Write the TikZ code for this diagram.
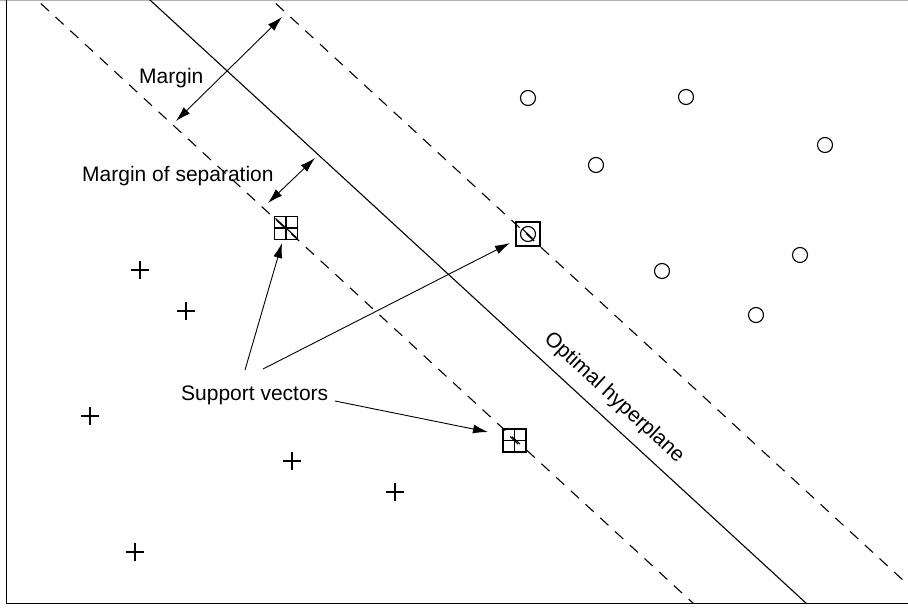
\documentclass[tikz,border=0pt]{standalone}
\usepackage{fontspec}
\setmainfont{Liberation Sans}
\usetikzlibrary{arrows.meta}
\begin{document}
\begin{tikzpicture}[x=1pt,y=-1pt,
  lbl/.style={font=\fontsize{21}{25}\selectfont, inner sep=0pt, anchor=base west},
  hyper/.style={line width=1.1pt},
  marginline/.style={line width=1.1pt, dash pattern=on 11pt off 9pt},
  crossfill/.style={path picture={\draw[line width=1.1pt]
      (path picture bounding box.north) -- (path picture bounding box.south)
      (path picture bounding box.west) -- (path picture bounding box.east);}},
  plusmark/.style={rectangle, draw=none, minimum size=18pt, inner sep=0pt, crossfill},
  circmark/.style={circle, draw, line width=1.1pt, minimum size=15pt, inner sep=0pt},
  svbox/.style={rectangle, draw, line width=1.4pt, minimum size=23pt, inner sep=0pt},
  svplus/.style={svbox, crossfill},
  arr/.style={line width=0.9pt, -{Latex[length=15pt,width=9pt]}},
  darr/.style={line width=0.9pt, {Latex[length=15pt,width=9pt]}-{Latex[length=15pt,width=9pt]}}
]
\useasboundingbox (0,0) rectangle (908,608);
% frame
\draw[gray!60, line width=1pt] (0,0.5) -- (908,0.5);
\draw[line width=1.4pt] (6.5,0) -- (6.5,603.5) -- (908,603.5);

% lines
\coordinate (hA) at (139.1,-10);  \coordinate (hB) at (824.4,620);
\coordinate (lA) at (26.1,-10);   \coordinate (lB) at (711.4,620);
\coordinate (rA) at (261.1,-10);  \coordinate (rB) at (946.4,620);
\begin{scope}
\clip (6.5,0) rectangle (908,603.5);
\draw[hyper] (hA) -- (hB);
\draw[marginline] (lA) -- (lB);
\draw[marginline] (rA) -- (rB);
\end{scope}

% class O points
\node[circmark] (o1) at (528,98) {};
\node[circmark] (o2) at (686,97) {};
\node[circmark] (o3) at (825,145) {};
\node[circmark] (o4) at (596,165) {};
\node[circmark] (o5) at (662,271) {};
\node[circmark] (o6) at (800,255) {};
\node[circmark] (o7) at (756,315) {};

% class + points
\node[plusmark] (p1) at (140,270) {};
\node[plusmark] (p2) at (186,311) {};
\node[plusmark] (p3) at (90,416) {};
\node[plusmark] (p4) at (292,461) {};
\node[plusmark] (p5) at (395,492) {};
\node[plusmark] (p6) at (135,552) {};

% support vectors
\node[svplus] (sv1) at (286,228) {};
\node[svbox, minimum size=24pt] (sv2) at (528,234) {};
\node[circmark] (sv2c) at (528,234) {};
\node[svplus] (sv3) at (514.5,440.5) {};
\draw[line width=1.1pt] (275.5,218.4) -- (296.5,237.6);
\draw[line width=1.1pt] (522.5,229) -- (532.5,238.5);
\draw[line width=1.1pt] (510,436.5) -- (518,444);

% labels
\node[lbl] (margin) at (139,83) {Margin};
\node[lbl] (msep) at (82,181) {Margin of separation};
\node[lbl] (sv) at (181,400) {Support vectors};
\node[font=\fontsize{21}{25}\selectfont, inner sep=0pt, rotate=-42.6] (opt) at (614,398) {Optimal hyperplane};

% margin arrows
\coordinate (m1) at (176,121); \coordinate (m2) at (282,17);
\draw[darr] (m1) -- (m2);
\coordinate (s1) at (268,203); \coordinate (s2) at (315,158);
\draw[darr] (s1) -- (s2);

% support vector arrows
\coordinate (a1s) at (245,370); \coordinate (a1e) at (282,243);
\coordinate (a2s) at (263,369); \coordinate (a2e) at (510,243);
\coordinate (a3s) at (335,401); \coordinate (a3e) at (488,432);
\draw[arr] (a1s) -- (a1e);
\draw[arr] (a2s) -- (a2e);
\draw[arr] (a3s) -- (a3e);
\end{tikzpicture}
\end{document}
